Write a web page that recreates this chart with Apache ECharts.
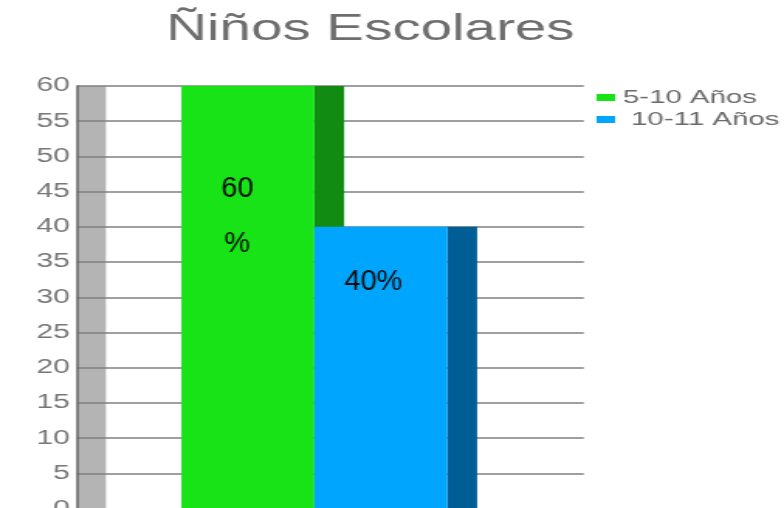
<!DOCTYPE html>
<html>
<head>
<meta charset="utf-8">
<script src="https://cdn.jsdelivr.net/npm/echarts@6/dist/echarts.min.js"></script>
<style>
  html, body { margin: 0; padding: 0; background: #fff; overflow: hidden; }
  /* the reference is a horizontally stretched screenshot, so draw narrow and stretch */
  #chart { width: 506px; height: 508px; transform: scaleX(1.5494); transform-origin: 0 0; }
</style>
</head>
<body>
<div id="chart"></div>
<script>
const S = 784 / 506;

// data
const categories = ['5-10 Años', ' 10-11 Años'];
const values = [60, 40];
const barLabels = ['60\n%', '40%'];
const wallHeight = [60];
const yTicks = { min: 0, max: 60, step: 5 };

// styles
const frontColors = ['#17e317', '#00a6fd'];
const sideColors = ['#128b12', '#005e95'];
const labelDy = [130, 55];     // label center, px below bar top
const labelDx = [-6.8, -4.8];  // px from bar center (unstretched)

const chart = echarts.init(document.getElementById('chart'));

function renderBar(params, api) {
    const idx = api.value(0);
    const v = api.value(1);
    const w = 4.46, side = 1;
    const x0 = 3.5 + idx * w;
    const tl = api.coord([x0, v]);
    const br = api.coord([x0 + w, 0]);
    const sr = api.coord([x0 + w + side, 0]);
    const cx = (tl[0] + br[0]) / 2 + labelDx[idx];
    const cy = tl[1] + labelDy[idx];
    return {
        type: 'group',
        children: [
            { type: 'rect', shape: { x: br[0], y: tl[1], width: sr[0] - br[0], height: br[1] - tl[1] },
              style: { fill: sideColors[idx] } },
            { type: 'rect', shape: { x: tl[0], y: tl[1], width: br[0] - tl[0], height: br[1] - tl[1] },
              style: { fill: frontColors[idx] } },
            { type: 'text', x: cx, y: cy, scaleX: 1 / S, z2: 10,
              style: {
                  text: barLabels[idx], fill: '#0a0a0a',
                  font: '29px "Liberation Sans", Arial, sans-serif',
                  align: 'center', verticalAlign: 'middle',
                  textAlign: 'center', textVerticalAlign: 'middle',
                  lineHeight: 55
              } }
        ]
    };
}

function renderWall(params, api) {
    const tl = api.coord([0, api.value(1)]);
    const br = api.coord([0.97, 0]);
    return { type: 'rect', shape: { x: tl[0], y: tl[1], width: br[0] - tl[0], height: br[1] - tl[1] },
             style: { fill: '#b4b4b4' } };
}

chart.setOption({
    animation: false,
    textStyle: { fontFamily: '"Liberation Sans", Arial, sans-serif' },
    title: {
        text: 'Ñiños Escolares',
        left: 239, top: 11, textAlign: 'center', padding: 0,
        textStyle: { fontSize: 36.5, fontWeight: 'normal', color: '#6e6e6e' }
    },
    legend: {
        orient: 'vertical', left: 385, top: 88, padding: 0,
        itemWidth: 12, itemHeight: 7, itemGap: 3,
        icon: 'rect',
        data: categories.map((name, i) => ({ name, itemStyle: { color: frontColors[i] } })),
        textStyle: { fontSize: 19, lineHeight: 19, color: '#6a6a6a', padding: [0, 0, 0, 0] }
    },
    grid: { left: 49.7, right: 129.2, top: 86, bottom: -0.6, containLabel: false, outerBoundsMode: 'none' },
    xAxis: { type: 'value', min: 0, max: 17, show: false },
    yAxis: {
        type: 'value', min: yTicks.min, max: yTicks.max, interval: yTicks.step,
        axisLine: { show: true, lineStyle: { color: '#666', width: 1.5 } },
        axisTick: { show: false },
        axisLabel: { fontSize: 19.5, color: '#777', margin: 4.5 },
        splitLine: { lineStyle: { color: '#7f7f7f', width: 1.5 } }
    },
    series: [
        { type: 'custom', name: 'wall', z: -1, renderItem: renderWall,
          data: wallHeight.map(v => [0, v]) },
        ...categories.map((name, i) => ({
            type: 'custom', name,
            itemStyle: { color: frontColors[i] },
            renderItem: renderBar,
            data: [[i, values[i]]]
        }))
    ]
});
</script>
</body>
</html>
